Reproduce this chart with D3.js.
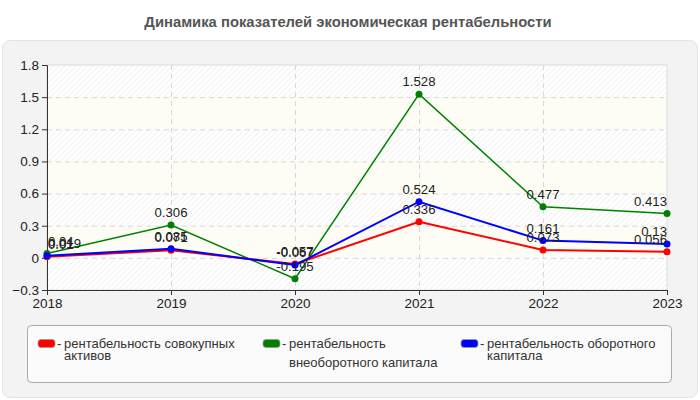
<!DOCTYPE html>
<html><head><meta charset="utf-8">
<script src="https://cdn.jsdelivr.net/npm/d3@7"></script>
<style>body{margin:0;background:#fff;font-family:"Liberation Sans",Arial,sans-serif}</style>
</head><body>
<svg id="c" width="700" height="400"></svg>
<script>
const years = [2018, 2019, 2020, 2021, 2022, 2023];
const seriesNames = ["рентабельность совокупных активов", "рентабельность внеоборотного капитала", "рентабельность оборотного капитала"];
const redValues = [0.01, 0.071, -0.057, 0.336, 0.073, 0.056];
const greenValues = [0.04, 0.306, -0.195, 1.528, 0.477, 0.413];
const blueValues = [0.019, 0.085, -0.067, 0.524, 0.161, 0.13];
const yTicks = [-0.3, 0, 0.3, 0.6, 0.9, 1.2, 1.5, 1.8];
const colors = ["#ff0000", "#008000", "#0000ff"];

const svg = d3.select("#c");
const defs = svg.append("defs");
const pat = defs.append("pattern").attr("id","hatch").attr("patternUnits","userSpaceOnUse")
  .attr("width",4).attr("height",4).attr("patternTransform","rotate(45)");
pat.append("rect").attr("width",4).attr("height",4).attr("fill","#ffffff");
pat.append("line").attr("x1",0).attr("y1",0).attr("x2",0).attr("y2",4).attr("stroke","#e8e8e8").attr("stroke-width",1.2);

svg.append("text").attr("x",348).attr("y",27).attr("text-anchor","middle")
  .attr("font-size",14.8).attr("font-weight","bold").attr("fill","#555")
  .text("Динамика показателей экономическая рентабельности");

svg.append("rect").attr("x",2.5).attr("y",40.5).attr("width",695).attr("height",357)
  .attr("rx",8).attr("fill","#f3f3f3").attr("stroke","#e2e2e2");

const L=47, R=667, T=65, B=290;
const x = d3.scalePoint().domain(years).range([L,R]);
const y = d3.scaleLinear().domain([-0.3,1.8]).range([B,T]);

const g = svg.append("g");
for(let i=0;i<yTicks.length-1;i++){
  const lo=yTicks[i], hi=yTicks[i+1];
  const idxFromTop = yTicks.length-2-i;
  g.append("rect").attr("x",L).attr("y",y(hi)).attr("width",R-L).attr("height",y(lo)-y(hi))
    .attr("fill", idxFromTop%2===0 ? "url(#hatch)" : "#fdfdf6");
}
g.append("rect").attr("x",L).attr("y",T).attr("width",R-L).attr("height",B-T)
  .attr("fill","none").attr("stroke","#dcdcdc");

yTicks.forEach(t=>{ if(t!==-0.3 && t!==1.8) g.append("line").attr("x1",L).attr("x2",R).attr("y1",y(t)+0.5).attr("y2",y(t)+0.5)
  .attr("stroke","#d8d8d8").attr("stroke-dasharray","5,4");});
years.forEach((yr,i)=>{ if(i>0 && i<years.length-1) g.append("line").attr("x1",x(yr)+0.5).attr("x2",x(yr)+0.5).attr("y1",T).attr("y2",B)
  .attr("stroke","#d8d8d8").attr("stroke-dasharray","5,4");});

const fmt = d => d===0 ? "0" : d3.format(".1f")(d);
const ya = svg.append("g").attr("transform",`translate(${L},0)`)
  .call(d3.axisLeft(y).tickValues(yTicks).tickFormat(fmt).tickSize(5).tickPadding(3));
const xa = svg.append("g").attr("transform",`translate(0,${B})`)
  .call(d3.axisBottom(x).tickSize(5).tickPadding(3));
[ya,xa].forEach(a=>{a.selectAll("path,line").attr("stroke","#333");
  a.selectAll("text").attr("font-size",13.5).attr("fill","#222").attr("font-family","'Liberation Sans',Arial,sans-serif");});

const allSeries = [redValues, greenValues, blueValues];
const order = [1,0,2];
order.forEach(si=>{
  const vals = allSeries[si];
  const line = d3.line().x((d,i)=>x(years[i])).y(d=>y(d));
  svg.append("path").datum(vals).attr("d",line).attr("fill","none")
    .attr("stroke",colors[si]).attr("stroke-width", si===1?1.5:2);
  svg.selectAll(null).data(vals).enter().append("circle")
    .attr("cx",(d,i)=>x(years[i])).attr("cy",d=>y(d)).attr("r",3.5).attr("fill",colors[si]);
});
order.forEach(si=>{
  const vals = allSeries[si];
  svg.selectAll(null).data(vals).enter().append("text")
    .attr("x",(d,i)=>x(years[i]) + (i===0?1:0))
    .attr("y",d=>y(d)-8)
    .attr("text-anchor",(d,i)=> i===0?"start":(i===years.length-1?"end":"middle"))
    .attr("font-size",13.2).attr("fill","#222")
    .text(d=>String(d));
});

svg.append("rect").attr("x",27.5).attr("y",325.5).attr("width",644).attr("height",57).attr("rx",4)
  .attr("fill","#fafafa").attr("stroke","#aaa");
const legX=[38,263,461];
const legLines=[["рентабельность совокупных","активов"],["рентабельность","внеоборотного капитала"],["рентабельность оборотного","капитала"]];
const legLine2Y=[360,367,360];
seriesNames.forEach((n,i)=>{
  svg.append("rect").attr("x",legX[i]).attr("y",339.5).attr("width",17).attr("height",8).attr("rx",3)
    .attr("fill",colors[i]).attr("stroke","#999").attr("stroke-width",0.8);
  svg.append("text").attr("x",legX[i]+19).attr("y",348).attr("font-size",13).attr("fill","#333").text("-");
  svg.append("text").attr("x",legX[i]+26).attr("y",348).attr("font-size",13).attr("fill","#333").text(legLines[i][0]);
  svg.append("text").attr("x",legX[i]+26).attr("y",legLine2Y[i]).attr("font-size",13).attr("fill","#333").text(legLines[i][1]);
});
</script>
</body></html>
